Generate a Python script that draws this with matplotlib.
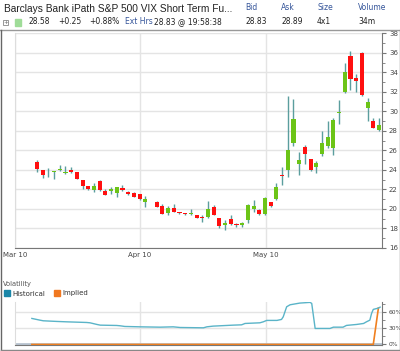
import numpy as np
import matplotlib.pyplot as plt
from matplotlib.lines import Line2D
from matplotlib.patches import Rectangle

# trading-day index of each candle (slot 20 is a market holiday)
day = list(range(0, 20)) + list(range(21, 61))
opens = [24.83, 23.97, 23.90, 23.75, 23.95, 23.70, 23.97, 23.80, 22.95, 22.37,
         21.95, 22.88, 21.82, 21.82, 21.68, 22.16, 21.75, 21.68, 21.51, 20.76,
         20.72, 20.31, 19.63, 20.14, 19.62, 19.50, 19.46, 19.36, 19.19, 19.19,
         20.21, 19.08, 18.40, 18.94, 18.45, 18.33, 18.92, 20.04, 19.94, 19.46,
         20.70, 21.07, 23.45, 23.97, 26.81, 24.56, 26.37, 25.10, 24.31, 25.65,
         26.44, 26.26, 29.80, 32.00, 35.71, 33.38, 36.02, 30.30, 29.00, 28.08]
highs = [25.00, 24.00, 24.15, 23.90, 24.50, 24.40, 24.35, 23.82, 23.00, 22.40,
         22.67, 22.98, 22.06, 22.30, 22.30, 22.43, 21.80, 21.70, 21.55, 21.30,
         20.86, 20.48, 20.31, 20.55, 19.70, 19.58, 19.97, 19.40, 19.36, 20.80,
         20.45, 19.10, 18.92, 19.36, 18.60, 18.65, 20.50, 20.90, 20.00, 21.20,
         20.75, 22.67, 24.32, 31.55, 31.30, 25.85, 26.54, 25.15, 24.90, 27.97,
         29.00, 29.30, 31.20, 35.00, 36.20, 33.82, 36.10, 31.33, 29.28, 29.28]
lows = [23.80, 23.20, 23.30, 23.10, 23.90, 23.60, 23.72, 23.05, 22.03, 21.98,
        21.78, 21.88, 21.45, 21.58, 21.23, 21.82, 21.48, 21.20, 20.95, 20.20,
        20.18, 19.50, 19.43, 19.68, 19.50, 19.40, 19.36, 19.05, 18.67, 19.05,
        19.34, 18.06, 17.82, 18.40, 18.20, 18.13, 18.60, 19.70, 19.35, 19.40,
        20.20, 20.95, 22.43, 23.30, 26.45, 23.53, 24.56, 23.90, 23.64, 25.45,
        26.20, 25.50, 28.66, 31.90, 32.20, 31.95, 31.60, 29.00, 28.25, 28.00]
closes = [24.05, 23.53, 23.85, 23.85, 24.05, 23.78, 23.82, 23.08, 22.35, 22.03,
          22.33, 21.90, 21.48, 22.02, 22.23, 21.92, 21.51, 21.23, 21.00, 21.03,
          20.20, 19.53, 20.10, 19.70, 19.56, 19.45, 19.63, 19.08, 19.03, 19.97,
          19.36, 18.23, 18.56, 18.43, 18.38, 18.60, 20.45, 20.31, 19.53, 21.17,
          20.33, 22.26, 23.35, 26.09, 29.20, 25.00, 25.60, 24.00, 24.66, 26.81,
          27.40, 29.10, 29.85, 34.07, 33.28, 33.10, 31.67, 30.98, 28.32, 28.59]

# volatility panel (x in the same trading-day units, values in %)
vol_day = [-0.9, 0.5, 1.1, 3.5, 5.2, 8.7, 9.3, 10.5, 11.1, 14.0, 14.6, 15.4,
           18.1, 21.6, 23.9, 25.1, 29.2, 29.8, 30.9, 34.4, 35.9, 36.5, 39.1,
           39.7, 40.3, 42.1, 42.9, 43.2, 43.8, 44.4, 46.1, 47.9, 48.2, 48.8,
           51.4, 52.0, 53.7, 54.3, 56.1, 57.3, 57.8, 58.4, 58.7, 59.0, 59.9, 60.2]
historical = [47.8, 44.7, 43.5, 42.3, 41.6, 40.4, 39.8, 36.8, 35.5, 34.9, 34.3,
              33.1, 32.4, 31.8, 32.4, 31.2, 30.6, 32.4, 33.7, 35.5, 36.1, 38.6,
              39.8, 41.6, 44.2, 44.2, 46.0, 50.8, 69.2, 72.9, 76.0, 77.3, 75.4,
              29.4, 29.4, 31.8, 31.8, 35.0, 36.8, 38.6, 41.6, 44.7, 57.0, 64.4,
              66.8, 68.6]
impl_day = [-0.9, 59.0, 59.9]
implied = [0, 0, 67]

date_pos = [-3.86, 18.07, 40.1]
date_lbl = ['Mar 10', 'Apr 10', 'May 10']

RED = '#ff1010'
GREEN = '#6cc417'
WICK = '#5b9e9e'
GRID = '#e4e4e4'
DARK = '#777777'

fig = plt.figure(figsize=(4, 3.51), dpi=100)

def fx(x):
    return x / 400.0

def fy(y):
    return 1 - y / 351.0

# ---- main candle chart
ax = fig.add_axes([fx(15), fy(248), fx(367), 214.7 / 351])
o = np.array(opens); c = np.array(closes)
up = c >= o
ax.vlines(day, lows, highs, color=WICK, lw=1, zorder=2)
body = np.maximum(np.abs(c - o), 0.09)
ax.bar(day, body, bottom=np.minimum(o, c), width=0.72,
       color=np.where(up, GREEN, RED), zorder=3, linewidth=0)
ax.set_xlim(-3.86, 60.53)
ax.set_ylim(16, 38)
ax.set_yticks(np.arange(16, 39, 2))
ax.set_yticks(np.arange(17, 38, 2), minor=True)
ax.yaxis.tick_right()
ax.tick_params(axis='y', which='major', length=3, color=DARK, labelsize=5,
               labelcolor='#444444', pad=2)
ax.tick_params(axis='y', which='minor', length=2, color=DARK)
ax.set_xticks(date_pos)
ax.set_xticklabels(date_lbl)
ax.tick_params(axis='x', length=0, labelsize=5, labelcolor='#444444', pad=3)
ax.grid(True, color=GRID, lw=1)
ax.set_axisbelow(True)
ax.spines['top'].set_visible(False)
ax.spines['left'].set_color('#dddddd')
ax.spines['right'].set_color(DARK)
ax.spines['bottom'].set_color(DARK)

# ---- volatility panel
av = fig.add_axes([fx(15), fy(345.3), fx(367), 43.3 / 351])
av.axhline(0, color='#b8c4d0', lw=2, zorder=1)
av.plot(impl_day, implied, color='#f08020', lw=1.2, zorder=3)
av.plot(vol_day, historical, color='#5ab4c8', lw=1, zorder=4)
av.set_xlim(-3.86, 60.53)
av.set_ylim(-1.5, 78)
av.set_yticks([0, 30, 60])
av.set_yticklabels(['0%', '30%', '60%'])
av.set_yticks([15, 45, 75], minor=True)
av.yaxis.tick_right()
av.tick_params(axis='y', which='major', length=3, color=DARK, labelsize=4.3,
               labelcolor='#444444', pad=1.5)
av.tick_params(axis='y', which='minor', length=2, color=DARK)
av.set_xticks(date_pos[1:])
av.tick_params(axis='x', length=0, labelbottom=False)
av.grid(True, color=GRID, lw=1)
av.set_axisbelow(True)
av.spines['top'].set_visible(False)
av.spines['left'].set_color('#dddddd')
av.spines['right'].set_color(DARK)
av.spines['bottom'].set_color(DARK)

fig.text(fx(3), fy(284), 'Volatility', fontsize=4.8, color='#555555', va='center')
fig.add_artist(Rectangle((fx(4), fy(296)), fx(6), 6 / 351, color='#1a86a8'))
fig.text(fx(12), fy(293.5), 'Historical', fontsize=5, color='#333333', va='center')
fig.add_artist(Rectangle((fx(54), fy(296)), fx(6), 6 / 351, color='#f07820'))
fig.text(fx(62), fy(293.5), 'Implied', fontsize=5, color='#333333', va='center')

# ---- header
fig.text(fx(4), fy(9.5), 'Barclays Bank iPath S&P 500 VIX Short Term Fu...',
         fontsize=7.3, family='Liberation Sans', color='#222222', va='center')
BLUE = '#35559a'
for xp, t in [(245, 'Bid'), (281, 'Ask'), (317, 'Size'), (358, 'Volume')]:
    fig.text(fx(xp), fy(7), t, fontsize=5.5, color=BLUE, va='center')
fig.add_artist(Rectangle((fx(3), fy(25)), fx(5), 5 / 351, fill=False,
                         edgecolor='#888888', lw=0.6))
fig.text(fx(5.5), fy(22.5), '+', fontsize=4, color='#666666', ha='center', va='center')
fig.add_artist(Rectangle((fx(15), fy(25.5)), fx(6), 6 / 351, color='#9fdc98'))
row = [(28, '28.58', '#222222'), (58, '+0.25', '#222222'), (89, '+0.88%', '#222222'),
       (125, 'Ext Hrs', BLUE), (154, '28.83 @ 19:58:38', '#222222'),
       (245, '28.83', '#222222'), (281, '28.89', '#222222'),
       (317, '4x1', '#222222'), (358, '34m', '#222222')]
for xp, t, col in row:
    fig.text(fx(xp), fy(22), t, fontsize=5.5, color=col, va='center')

# frame lines
fig.add_artist(Line2D([0, 1], [fy(29.5), fy(29.5)], color='#999999', lw=1))
fig.add_artist(Line2D([fx(0.5), fx(0.5)], [fy(29.5), fy(350.5)], color='#666666', lw=1))
fig.add_artist(Line2D([fx(0.5), fx(399.5)], [fy(349.5), fy(349.5)], color='#888888', lw=1))
fig.add_artist(Line2D([fx(399.5), fx(399.5)], [fy(29.5), fy(350.5)], color='#888888', lw=1))

fig.savefig('out.png', dpi=100)
